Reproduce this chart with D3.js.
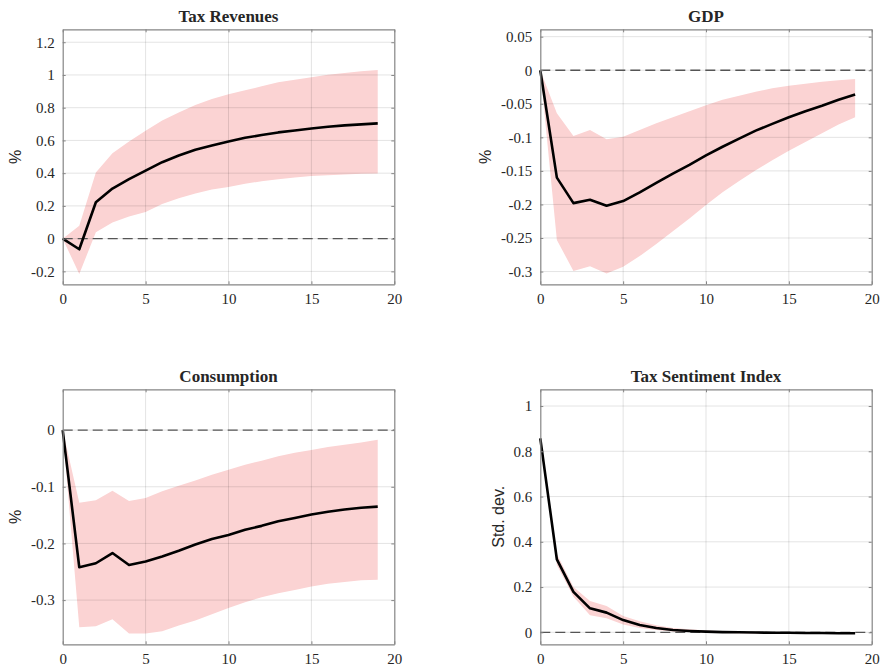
<!DOCTYPE html>
<html>
<head>
<meta charset="utf-8">
<script src="https://cdn.jsdelivr.net/npm/d3@7/dist/d3.min.js"></script>
<style>
  html, body { margin: 0; padding: 0; background: #fff; }
  svg { display: block; }
</style>
</head>
<body>
<svg id="chart" width="881" height="667"></svg>
<script>
// Impulse responses: horizon 0..19, median response and 68% band
const horizon = d3.range(0, 20);

const taxRevMed = [0, -0.065, 0.222, 0.306, 0.363, 0.416, 0.467, 0.508, 0.543, 0.569, 0.594, 0.616, 0.633, 0.649, 0.661, 0.673, 0.684, 0.692, 0.698, 0.704];
const taxRevLo  = [0, -0.216, 0.039, 0.098, 0.135, 0.163, 0.212, 0.247, 0.276, 0.300, 0.316, 0.335, 0.351, 0.363, 0.373, 0.382, 0.388, 0.392, 0.396, 0.398];
const taxRevHi  = [0, 0.078, 0.404, 0.522, 0.594, 0.659, 0.722, 0.771, 0.816, 0.853, 0.882, 0.906, 0.931, 0.955, 0.971, 0.986, 1.002, 1.012, 1.022, 1.031];

const gdpMed = [0, -0.160, -0.198, -0.193, -0.202, -0.195, -0.182, -0.168, -0.154, -0.141, -0.127, -0.114, -0.102, -0.090, -0.080, -0.070, -0.061, -0.053, -0.044, -0.036];
const gdpLo  = [0, -0.253, -0.299, -0.292, -0.303, -0.293, -0.277, -0.259, -0.240, -0.221, -0.201, -0.182, -0.165, -0.149, -0.134, -0.120, -0.107, -0.094, -0.081, -0.070];
const gdpHi  = [0, -0.064, -0.098, -0.089, -0.103, -0.099, -0.089, -0.079, -0.070, -0.061, -0.052, -0.044, -0.038, -0.032, -0.027, -0.023, -0.020, -0.017, -0.015, -0.013];

const consMed = [0, -0.242, -0.235, -0.217, -0.238, -0.232, -0.223, -0.213, -0.202, -0.192, -0.185, -0.176, -0.169, -0.161, -0.155, -0.149, -0.144, -0.140, -0.137, -0.135];
const consLo  = [0, -0.348, -0.346, -0.334, -0.359, -0.359, -0.355, -0.345, -0.336, -0.325, -0.314, -0.304, -0.295, -0.288, -0.282, -0.276, -0.271, -0.268, -0.265, -0.264];
const consHi  = [0, -0.128, -0.124, -0.107, -0.125, -0.120, -0.108, -0.098, -0.089, -0.079, -0.070, -0.061, -0.054, -0.046, -0.040, -0.035, -0.030, -0.026, -0.022, -0.017];

const tsiMed = [0.857, 0.322, 0.179, 0.106, 0.087, 0.054, 0.032, 0.019, 0.010, 0.006, 0.003, 0.001, 0.000, -0.001, -0.002, -0.002, -0.003, -0.003, -0.004, -0.004];
const tsiLo  = [0.857, 0.297, 0.157, 0.075, 0.062, 0.035, 0.019, 0.010, 0.004, 0.001, -0.002, -0.003, -0.004, -0.005, -0.005, -0.006, -0.006, -0.006, -0.007, -0.007];
const tsiHi  = [0.857, 0.346, 0.200, 0.138, 0.116, 0.072, 0.049, 0.031, 0.019, 0.013, 0.008, 0.005, 0.003, 0.002, 0.001, 0.001, 0.000, 0.000, 0.000, -0.001];

// Axis ticks and labels
const xTicks = [0, 5, 10, 15, 20];
const xTickLabels = ["0", "5", "10", "15", "20"];

const taxRevTicks = [-0.2, 0, 0.2, 0.4, 0.6, 0.8, 1, 1.2];
const taxRevTickLabels = ["-0.2", "0", "0.2", "0.4", "0.6", "0.8", "1", "1.2"];
const gdpTicks = [-0.3, -0.25, -0.2, -0.15, -0.1, -0.05, 0, 0.05];
const gdpTickLabels = ["-0.3", "-0.25", "-0.2", "-0.15", "-0.1", "-0.05", "0", "0.05"];
const consTicks = [-0.3, -0.2, -0.1, 0];
const consTickLabels = ["-0.3", "-0.2", "-0.1", "0"];
const tsiTicks = [0, 0.2, 0.4, 0.6, 0.8, 1];
const tsiTickLabels = ["0", "0.2", "0.4", "0.6", "0.8", "1"];

const titles = ["Tax Revenues", "GDP", "Consumption", "Tax Sentiment Index"];
const yLabels = ["%", "%", "%", "Std. dev."];

// Panel layout
const panels = [
  { title: titles[0], ylab: yLabels[0], med: taxRevMed, lo: taxRevLo, hi: taxRevHi,
    ydom: [-0.279, 1.279], yt: taxRevTicks, ytl: taxRevTickLabels,
    box: { x0: 62.7, y0: 29.3, x1: 394.3, y1: 284.3 }, labX: 15 },
  { title: titles[1], ylab: yLabels[1], med: gdpMed, lo: gdpLo, hi: gdpHi,
    ydom: [-0.319, 0.061], yt: gdpTicks, ytl: gdpTickLabels,
    box: { x0: 540.3, y0: 29.3, x1: 871.7, y1: 284.3 }, labX: 485 },
  { title: titles[2], ylab: yLabels[2], med: consMed, lo: consLo, hi: consHi,
    ydom: [-0.378, 0.072], yt: consTicks, ytl: consTickLabels,
    box: { x0: 62.7, y0: 389.3, x1: 394.3, y1: 644.3 }, labX: 15 },
  { title: titles[3], ylab: yLabels[3], med: tsiMed, lo: tsiLo, hi: tsiHi,
    ydom: [-0.053, 1.074], yt: tsiTicks, ytl: tsiTickLabels,
    box: { x0: 540.3, y0: 389.3, x1: 871.7, y1: 644.3 }, labX: 498 }
];

const svg = d3.select("#chart");
const serif = "'Liberation Serif', 'Times New Roman', Times, serif";
const sans = "'Liberation Sans', Arial, Helvetica, sans-serif";
const frameColor = "#858585";
const textColor = "#262626";

panels.forEach(p => {
  const b = p.box;
  const x = d3.scaleLinear().domain([0, 20]).range([b.x0, b.x1]);
  const y = d3.scaleLinear().domain(p.ydom).range([b.y1, b.y0]);
  const g = svg.append("g");

  // confidence band
  const area = d3.area()
    .x((d, i) => x(horizon[i]))
    .y0((d, i) => y(p.lo[i]))
    .y1((d, i) => y(p.hi[i]));
  g.append("path").datum(p.med).attr("d", area)
    .attr("fill", "#fbd3d3").attr("stroke", "none");

  // grid lines over the band
  const grid = g.append("g").attr("stroke", "#000").attr("stroke-opacity", 0.11).attr("stroke-width", 1);
  xTicks.forEach(t => {
    if (t === 0 || t === 20) return;
    grid.append("line").attr("x1", x(t)).attr("x2", x(t)).attr("y1", b.y0).attr("y2", b.y1);
  });
  p.yt.forEach(t => {
    grid.append("line").attr("x1", b.x0).attr("x2", b.x1).attr("y1", y(t)).attr("y2", y(t));
  });

  // zero reference line
  g.append("line")
    .attr("x1", x(0)).attr("x2", x(20)).attr("y1", y(0)).attr("y2", y(0))
    .attr("stroke", "#555").attr("stroke-width", 1.3).attr("stroke-dasharray", "10,5");

  // median response
  const line = d3.line().x((d, i) => x(horizon[i])).y(d => y(d));
  g.append("path").datum(p.med).attr("d", line)
    .attr("fill", "none").attr("stroke", "#000").attr("stroke-width", 2.6)
    .attr("stroke-linejoin", "round");

  // axes (inward ticks on all four sides)
  const styleAxis = sel => {
    sel.select(".domain").attr("stroke", frameColor).attr("stroke-width", 1.2);
    sel.selectAll(".tick line").attr("stroke", frameColor);
    sel.selectAll(".tick text").attr("fill", textColor)
      .style("font-family", serif).style("font-size", "15px");
  };

  g.append("g").attr("transform", `translate(0,${b.y1})`)
    .call(d3.axisBottom(x).tickValues(xTicks).tickFormat((d, i) => xTickLabels[i])
      .tickSizeInner(-3).tickSizeOuter(0).tickPadding(9))
    .call(styleAxis);
  g.append("g").attr("transform", `translate(0,${b.y0})`)
    .call(d3.axisTop(x).tickValues(xTicks).tickFormat("")
      .tickSizeInner(-3).tickSizeOuter(0))
    .call(styleAxis);
  g.append("g").attr("transform", `translate(${b.x0},0)`)
    .call(d3.axisLeft(y).tickValues(p.yt).tickFormat((d, i) => p.ytl[i])
      .tickSizeInner(-3).tickSizeOuter(0).tickPadding(8))
    .call(styleAxis);
  g.append("g").attr("transform", `translate(${b.x1},0)`)
    .call(d3.axisRight(y).tickValues(p.yt).tickFormat("")
      .tickSizeInner(-3).tickSizeOuter(0))
    .call(styleAxis);

  // title
  svg.append("text")
    .attr("x", (b.x0 + b.x1) / 2).attr("y", b.y0 - 7)
    .attr("text-anchor", "middle")
    .style("font-family", serif).style("font-size", "17px").style("font-weight", "bold")
    .attr("fill", textColor)
    .text(p.title);

  // y-axis label
  svg.append("text")
    .attr("transform", `translate(${p.labX},${(b.y0 + b.y1) / 2}) rotate(-90)`)
    .attr("text-anchor", "middle").attr("dy", "0.35em")
    .style("font-family", sans).style("font-size", "16px")
    .attr("fill", textColor)
    .text(p.ylab);
});
</script>
</body>
</html>
